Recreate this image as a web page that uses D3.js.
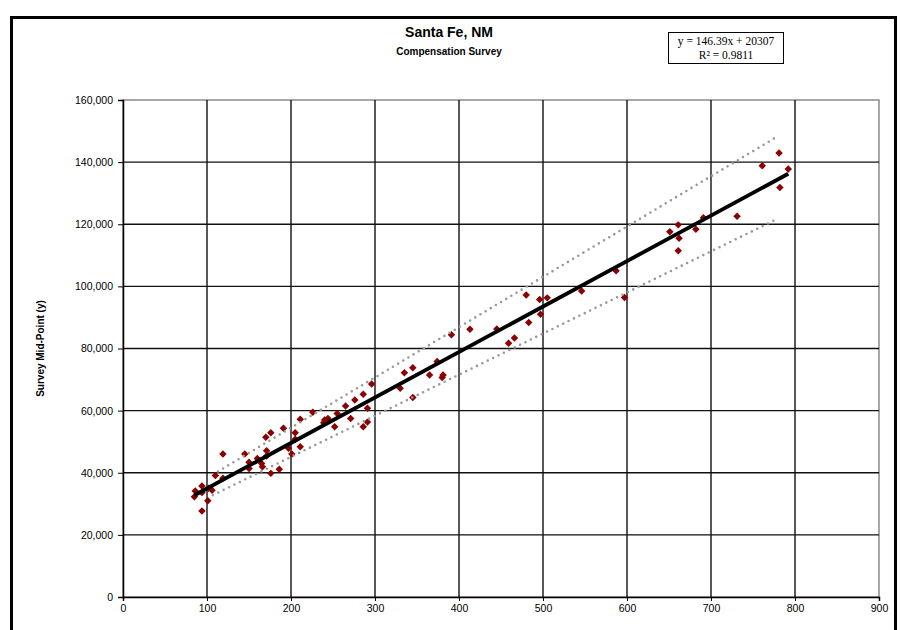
<!DOCTYPE html>
<html>
<head>
<meta charset="utf-8">
<script src="https://cdn.jsdelivr.net/npm/d3@7"></script>
<style>
  body { margin: 0; background: #fff; }
  text { font-family: "Liberation Sans", Arial, sans-serif; }
  .tickText text { font-size: 10.5px; fill: #000; }
  .eq { font-family: "Liberation Serif", "Times New Roman", serif; font-size: 11.5px; }
</style>
</head>
<body>
<script>
    // survey data: job points (x) and survey mid-point (y)
    var jobPoints = [85, 86, 94, 94, 94, 101, 102, 106, 110, 119,
      119, 145, 150, 150, 160, 165, 166, 171, 171, 170,
      176, 176, 186, 191, 197, 201, 205, 205, 211, 211,
      226, 240, 244, 239, 255, 252, 265, 271, 276, 286,
      296, 291, 291, 286, 330, 335, 345, 345, 365, 381,
      380, 374, 391, 413, 445, 459, 466, 480, 483, 496,
      497, 505, 546, 587, 597, 651, 661, 662, 661, 682,
      691, 731, 761, 781, 782, 792];
    var midPoints = [32300, 34100, 35700, 33600, 27700, 31000, 35000, 34400, 39100, 38200,
      46000, 46000, 43400, 41400, 44600, 43000, 41900, 47100, 45400, 51400,
      52900, 39800, 41100, 54300, 47900, 46000, 52900, 50800, 48400, 57200,
      59500, 57000, 57500, 56100, 59100, 54800, 61500, 57500, 63400, 65300,
      68600, 60800, 56300, 54800, 67200, 72200, 73800, 64200, 71500, 71500,
      70700, 75800, 84400, 86200, 86300, 81700, 83400, 97200, 88400, 95800,
      91000, 96300, 98500, 105000, 96400, 117600, 119800, 115500, 111500, 118400,
      122100, 122600, 138800, 142900, 131800, 137800];

    // linear trend (from the chart label) and the dotted band end points
    var slope = 146.39, intercept = 20307, rSquared = 0.9811;
    var upperBand = [[113, 40400], [775, 147600]];
    var lowerBand = [[107, 32800], [775, 121200]];

    var xTicks = [0, 100, 200, 300, 400, 500, 600, 700, 800, 900];
    var yTicks = [0, 20000, 40000, 60000, 80000, 100000, 120000, 140000, 160000];

    var margin = {top: 100, right: 22, bottom: 33, left: 123},
    width = 901 - margin.left - margin.right,
    height = 630 - margin.top - margin.bottom;

    var x = d3.scaleLinear().domain([0, 900]).range([0, width]);
    var y = d3.scaleLinear().domain([0, 160000]).range([height, 0]);

    var svg = d3.select("body").append("svg")
      .attr("width", 901)
      .attr("height", 630);

    //outer chart frame
    svg.append("rect")
      .attr("x", 11.5).attr("y", 17.5)
      .attr("width", 884).attr("height", 640)
      .attr("fill", "none")
      .attr("stroke", "#000")
      .attr("stroke-width", 3);

    //titles
    svg.append("text")
      .attr("x", 449).attr("y", 37)
      .attr("text-anchor", "middle")
      .style("font-size", "14px").style("font-weight", "bold")
      .text("Santa Fe, NM");
    svg.append("text")
      .attr("x", 449).attr("y", 55)
      .attr("text-anchor", "middle")
      .style("font-size", "10px").style("font-weight", "bold")
      .text("Compensation Survey");

    //equation box
    svg.append("rect")
      .attr("x", 668.5).attr("y", 32.5)
      .attr("width", 115).attr("height", 31)
      .attr("fill", "#fff").attr("stroke", "#000").attr("stroke-width", 1);
    svg.append("text").attr("class", "eq")
      .attr("x", 726).attr("y", 45)
      .attr("text-anchor", "middle")
      .text("y = " + slope + "x + " + intercept);
    svg.append("text").attr("class", "eq")
      .attr("x", 726).attr("y", 59)
      .attr("text-anchor", "middle")
      .text("R\u00b2 = " + rSquared);

    //y axis title
    svg.append("text")
      .attr("transform", "translate(44," + (margin.top + height / 2) + ") rotate(-90)")
      .attr("text-anchor", "middle")
      .style("font-size", "10px").style("font-weight", "bold")
      .text("Survey  Mid-Point (y)");

    var g = svg.append("g")
      .attr("transform", "translate(" + margin.left + "," + margin.top + ")");

    //plot area border
    g.append("rect")
      .attr("width", width).attr("height", height)
      .attr("fill", "none").attr("stroke", "#8a8a8a").attr("stroke-width", 1.5);

    //gridlines
    g.append("g")
      .selectAll("line")
      .data(yTicks.filter(function(d) { return d > 0 && d < 160000; }))
      .join("line")
      .attr("x1", 0).attr("x2", width)
      .attr("y1", function(d) { return y(d); })
      .attr("y2", function(d) { return y(d); })
      .attr("stroke", "#111").attr("stroke-width", 1.4);
    g.append("g")
      .selectAll("line")
      .data(xTicks.filter(function(d) { return d > 0 && d < 900; }))
      .join("line")
      .attr("y1", 0).attr("y2", height)
      .attr("x1", function(d) { return x(d); })
      .attr("x2", function(d) { return x(d); })
      .attr("stroke", "#111").attr("stroke-width", 1.4);

    //add the X axis
    g.append("g")
      .attr("class", "tickText")
      .attr("transform", "translate(0," + height + ")")
      .call(d3.axisBottom(x).tickValues(xTicks).tickSize(4).tickPadding(4).tickFormat(d3.format("d")))
      .call(function(a) { a.select(".domain").attr("stroke-width", 1.5); });

    //add the Y axis
    g.append("g")
      .attr("class", "tickText")
      .call(d3.axisLeft(y).tickValues(yTicks).tickSize(5).tickPadding(5).tickFormat(d3.format(",")))
      .call(function(a) { a.select(".domain").attr("stroke-width", 1.5); });

    //data points as diamonds
    var diamond = d3.symbol().type(d3.symbolSquare).size(28);
    g.append("g")
      .selectAll("path")
      .data(jobPoints)
      .join("path")
      .attr("d", diamond)
      .attr("fill", "#8b0000")
      .attr("transform", function(d, i) {
        return "translate(" + x(d) + "," + y(midPoints[i]) + ") rotate(45)";
      });

    //dotted bands
    var bandLine = d3.line()
      .x(function(d) { return x(d[0]); })
      .y(function(d) { return y(d[1]); });
    [upperBand, lowerBand].forEach(function(b) {
      g.append("path")
        .datum(b)
        .attr("d", bandLine)
        .attr("fill", "none")
        .attr("stroke", "#9a9a9a")
        .attr("stroke-width", 2.6)
        .attr("stroke-linecap", "round")
        .style("stroke-dasharray", ("0, 6"));
    });

    //trend line
    var ext = d3.extent(jobPoints);
    g.append("path")
      .datum(ext)
      .attr("d", d3.line()
        .x(function(d) { return x(d); })
        .y(function(d) { return y(slope * d + intercept); }))
      .attr("fill", "none")
      .attr("stroke", "#000")
      .attr("stroke-width", 3.8);
</script>
</body>
</html>
